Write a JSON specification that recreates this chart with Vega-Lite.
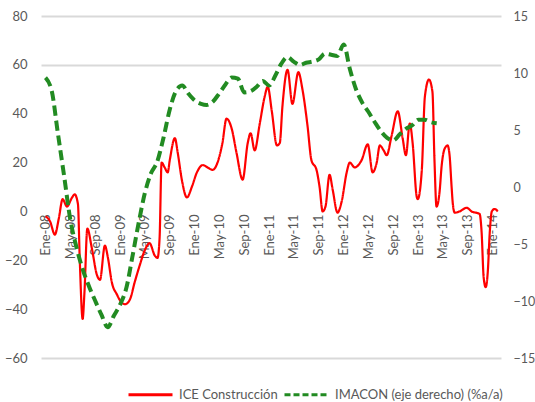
{
  "$schema": "https://vega.github.io/schema/vega-lite/v6.json",
  "width": 460,
  "height": 342,
  "autosize": "none",
  "padding": {"left": 41, "top": 16, "right": 34, "bottom": 44},
  "background": "white",
  "config": {
    "view": {"stroke": null},
    "font": "Lato",
    "axis": {"labelFont": "Lato", "labelFontSize": 13, "labelColor": "#595959", "domain": false, "ticks": false, "title": null}
  },
  "datasets": {
    "ice": [
      {"fecha": "2008-01-01", "valor": -2},
      {"fecha": "2008-01-23", "valor": -4},
      {"fecha": "2008-02-16", "valor": -9.5},
      {"fecha": "2008-03-06", "valor": -3},
      {"fecha": "2008-03-25", "valor": 5},
      {"fecha": "2008-04-15", "valor": 2},
      {"fecha": "2008-05-09", "valor": 5.5},
      {"fecha": "2008-05-23", "valor": 7},
      {"fecha": "2008-06-08", "valor": 3},
      {"fecha": "2008-06-17", "valor": -20},
      {"fecha": "2008-07-01", "valor": -44},
      {"fecha": "2008-07-10", "valor": -33},
      {"fecha": "2008-07-24", "valor": -7},
      {"fecha": "2008-08-15", "valor": -15},
      {"fecha": "2008-09-09", "valor": -26},
      {"fecha": "2008-09-24", "valor": -28},
      {"fecha": "2008-10-18", "valor": -14},
      {"fecha": "2008-11-02", "valor": -19},
      {"fecha": "2008-11-21", "valor": -29},
      {"fecha": "2008-12-16", "valor": -34},
      {"fecha": "2009-01-05", "valor": -37},
      {"fecha": "2009-01-25", "valor": -38},
      {"fecha": "2009-02-18", "valor": -36},
      {"fecha": "2009-03-13", "valor": -29},
      {"fecha": "2009-04-07", "valor": -22},
      {"fecha": "2009-05-01", "valor": -16},
      {"fecha": "2009-05-25", "valor": -13},
      {"fecha": "2009-06-19", "valor": -18},
      {"fecha": "2009-07-03", "valor": -19},
      {"fecha": "2009-07-13", "valor": -11},
      {"fecha": "2009-07-23", "valor": 20},
      {"fecha": "2009-08-07", "valor": 18},
      {"fecha": "2009-08-22", "valor": 16},
      {"fecha": "2009-09-01", "valor": 21},
      {"fecha": "2009-09-26", "valor": 30},
      {"fecha": "2009-10-10", "valor": 24},
      {"fecha": "2009-10-30", "valor": 13},
      {"fecha": "2009-11-24", "valor": 5.7},
      {"fecha": "2009-12-18", "valor": 10},
      {"fecha": "2010-01-12", "valor": 16},
      {"fecha": "2010-02-10", "valor": 19},
      {"fecha": "2010-03-05", "valor": 18},
      {"fecha": "2010-03-30", "valor": 17},
      {"fecha": "2010-04-23", "valor": 20},
      {"fecha": "2010-05-17", "valor": 28},
      {"fecha": "2010-06-06", "valor": 38},
      {"fecha": "2010-07-01", "valor": 34},
      {"fecha": "2010-07-25", "valor": 24},
      {"fecha": "2010-08-24", "valor": 13},
      {"fecha": "2010-09-18", "valor": 28},
      {"fecha": "2010-10-02", "valor": 32},
      {"fecha": "2010-10-22", "valor": 25},
      {"fecha": "2010-11-16", "valor": 36},
      {"fecha": "2010-12-10", "valor": 47},
      {"fecha": "2010-12-25", "valor": 51},
      {"fecha": "2011-01-14", "valor": 41},
      {"fecha": "2011-02-08", "valor": 27},
      {"fecha": "2011-02-22", "valor": 28},
      {"fecha": "2011-03-07", "valor": 43},
      {"fecha": "2011-04-01", "valor": 58},
      {"fecha": "2011-04-25", "valor": 44},
      {"fecha": "2011-05-24", "valor": 57},
      {"fecha": "2011-06-13", "valor": 50},
      {"fecha": "2011-07-08", "valor": 35},
      {"fecha": "2011-07-27", "valor": 21},
      {"fecha": "2011-08-21", "valor": 17},
      {"fecha": "2011-09-05", "valor": 10},
      {"fecha": "2011-09-20", "valor": 0},
      {"fecha": "2011-10-04", "valor": 2},
      {"fecha": "2011-10-24", "valor": 15},
      {"fecha": "2011-11-08", "valor": 9},
      {"fecha": "2011-12-02", "valor": -0.5},
      {"fecha": "2011-12-22", "valor": 4},
      {"fecha": "2012-01-16", "valor": 16},
      {"fecha": "2012-01-31", "valor": 20},
      {"fecha": "2012-02-24", "valor": 18},
      {"fecha": "2012-03-29", "valor": 21},
      {"fecha": "2012-04-28", "valor": 27.5},
      {"fecha": "2012-05-22", "valor": 16},
      {"fecha": "2012-06-11", "valor": 20},
      {"fecha": "2012-06-26", "valor": 27},
      {"fecha": "2012-07-15", "valor": 25},
      {"fecha": "2012-07-30", "valor": 23},
      {"fecha": "2012-08-23", "valor": 31},
      {"fecha": "2012-09-22", "valor": 41},
      {"fecha": "2012-10-16", "valor": 30},
      {"fecha": "2012-11-01", "valor": 23},
      {"fecha": "2012-11-20", "valor": 36},
      {"fecha": "2012-12-04", "valor": 28},
      {"fecha": "2012-12-24", "valor": 6},
      {"fecha": "2012-12-29", "valor": 5},
      {"fecha": "2013-01-18", "valor": 17},
      {"fecha": "2013-02-02", "valor": 47},
      {"fecha": "2013-02-22", "valor": 54},
      {"fecha": "2013-03-11", "valor": 49},
      {"fecha": "2013-03-21", "valor": 21},
      {"fecha": "2013-03-31", "valor": 2},
      {"fecha": "2013-04-15", "valor": 8},
      {"fecha": "2013-04-25", "valor": 18.5},
      {"fecha": "2013-05-09", "valor": 25.5},
      {"fecha": "2013-05-24", "valor": 27},
      {"fecha": "2013-06-03", "valor": 23},
      {"fecha": "2013-06-13", "valor": 10},
      {"fecha": "2013-06-18", "valor": 4},
      {"fecha": "2013-06-28", "valor": -0.5},
      {"fecha": "2013-07-22", "valor": 0},
      {"fecha": "2013-08-26", "valor": 1.5},
      {"fecha": "2013-09-19", "valor": 0},
      {"fecha": "2013-10-28", "valor": -1},
      {"fecha": "2013-11-07", "valor": -8.5},
      {"fecha": "2013-11-17", "valor": -27},
      {"fecha": "2013-11-27", "valor": -31},
      {"fecha": "2013-12-07", "valor": -25},
      {"fecha": "2013-12-17", "valor": -8.5},
      {"fecha": "2013-12-27", "valor": 0},
      {"fecha": "2014-01-10", "valor": 1},
      {"fecha": "2014-01-25", "valor": 0}
    ],
    "imacon": [
      {"fecha": "2008-01-01", "valor": 9.6},
      {"fecha": "2008-02-01", "valor": 8.4},
      {"fecha": "2008-03-01", "valor": 4.8},
      {"fecha": "2008-04-01", "valor": 1.0},
      {"fecha": "2008-05-01", "valor": -2.8},
      {"fecha": "2008-06-01", "valor": -5.3},
      {"fecha": "2008-07-01", "valor": -7.2},
      {"fecha": "2008-08-01", "valor": -8.7},
      {"fecha": "2008-09-01", "valor": -10.0},
      {"fecha": "2008-10-01", "valor": -11.2},
      {"fecha": "2008-11-01", "valor": -12.3},
      {"fecha": "2008-12-01", "valor": -11.3},
      {"fecha": "2009-01-01", "valor": -10.3},
      {"fecha": "2009-02-01", "valor": -8.8},
      {"fecha": "2009-03-01", "valor": -6.2},
      {"fecha": "2009-04-01", "valor": -3.2},
      {"fecha": "2009-05-01", "valor": -0.6},
      {"fecha": "2009-06-01", "valor": 1.2},
      {"fecha": "2009-07-01", "valor": 2.2},
      {"fecha": "2009-08-01", "valor": 4.3},
      {"fecha": "2009-09-01", "valor": 6.8},
      {"fecha": "2009-10-01", "valor": 8.4},
      {"fecha": "2009-11-01", "valor": 8.9},
      {"fecha": "2009-12-01", "valor": 8.2},
      {"fecha": "2010-01-01", "valor": 7.6},
      {"fecha": "2010-02-01", "valor": 7.3},
      {"fecha": "2010-03-01", "valor": 7.2},
      {"fecha": "2010-04-01", "valor": 7.5},
      {"fecha": "2010-05-01", "valor": 8.2},
      {"fecha": "2010-06-01", "valor": 9.0},
      {"fecha": "2010-07-01", "valor": 9.6},
      {"fecha": "2010-08-01", "valor": 9.5},
      {"fecha": "2010-09-01", "valor": 8.3},
      {"fecha": "2010-10-01", "valor": 8.4},
      {"fecha": "2010-11-01", "valor": 8.8},
      {"fecha": "2010-12-01", "valor": 9.3},
      {"fecha": "2011-01-01", "valor": 8.9},
      {"fecha": "2011-02-01", "valor": 9.8},
      {"fecha": "2011-03-01", "valor": 10.8},
      {"fecha": "2011-04-01", "valor": 11.4},
      {"fecha": "2011-05-01", "valor": 11.0},
      {"fecha": "2011-06-01", "valor": 10.7},
      {"fecha": "2011-07-01", "valor": 10.9},
      {"fecha": "2011-08-01", "valor": 11.0},
      {"fecha": "2011-09-01", "valor": 11.2},
      {"fecha": "2011-10-01", "valor": 11.7},
      {"fecha": "2011-11-01", "valor": 11.6},
      {"fecha": "2011-12-01", "valor": 11.5},
      {"fecha": "2012-01-01", "valor": 12.5},
      {"fecha": "2012-02-01", "valor": 10.3},
      {"fecha": "2012-03-01", "valor": 8.6},
      {"fecha": "2012-04-01", "valor": 7.4},
      {"fecha": "2012-05-01", "valor": 6.6},
      {"fecha": "2012-06-01", "valor": 5.7},
      {"fecha": "2012-07-01", "valor": 4.9},
      {"fecha": "2012-08-01", "valor": 4.3},
      {"fecha": "2012-09-01", "valor": 4.1},
      {"fecha": "2012-10-01", "valor": 4.6},
      {"fecha": "2012-11-01", "valor": 5.1},
      {"fecha": "2012-12-01", "valor": 5.4},
      {"fecha": "2013-01-01", "valor": 5.9},
      {"fecha": "2013-02-01", "valor": 5.9},
      {"fecha": "2013-03-01", "valor": 5.7},
      {"fecha": "2013-04-01", "valor": 5.6}
    ]
  },
  "encoding": {
    "x": {
      "field": "fecha", "type": "temporal",
      "scale": {"type": "utc", "domain": [{"year": 2007, "month": 12, "date": 10, "utc": true}, {"year": 2014, "month": 2, "date": 10, "utc": true}]},
      "axis": {
        "values": [
          {"year": 2008, "month": 1, "date": 1, "utc": true}, {"year": 2008, "month": 5, "date": 1, "utc": true}, {"year": 2008, "month": 9, "date": 1, "utc": true},
          {"year": 2009, "month": 1, "date": 1, "utc": true}, {"year": 2009, "month": 5, "date": 1, "utc": true}, {"year": 2009, "month": 9, "date": 1, "utc": true},
          {"year": 2010, "month": 1, "date": 1, "utc": true}, {"year": 2010, "month": 5, "date": 1, "utc": true}, {"year": 2010, "month": 9, "date": 1, "utc": true},
          {"year": 2011, "month": 1, "date": 1, "utc": true}, {"year": 2011, "month": 5, "date": 1, "utc": true}, {"year": 2011, "month": 9, "date": 1, "utc": true},
          {"year": 2012, "month": 1, "date": 1, "utc": true}, {"year": 2012, "month": 5, "date": 1, "utc": true}, {"year": 2012, "month": 9, "date": 1, "utc": true},
          {"year": 2013, "month": 1, "date": 1, "utc": true}, {"year": 2013, "month": 5, "date": 1, "utc": true}, {"year": 2013, "month": 9, "date": 1, "utc": true},
          {"year": 2014, "month": 1, "date": 1, "utc": true}
        ],
        "labelExpr": "(utcmonth(datum.value)==0?'Ene':utcmonth(datum.value)==4?'May':'Sep')+'-'+utcFormat(datum.value,'%y')",
        "labelAngle": -90,
        "offset": -147,
        "labelPadding": 3,
        "labelFlush": false,
        "labelOverlap": false,
        "labelBound": false,
        "labelSeparation": 0,
        "grid": false
      }
    }
  },
  "layer": [
    {
      "data": {"name": "ice"},
      "mark": {"type": "line", "strokeWidth": 2.2, "interpolate": "monotone"},
      "encoding": {
        "y": {
          "field": "valor", "type": "quantitative",
          "scale": {"domain": [-60, 80], "nice": false, "zero": false},
          "axis": {
            "orient": "left",
            "values": [-60, -40, -20, 0, 20, 40, 60, 80],
            "labelPadding": 14,
            "grid": true,
            "gridColor": "#d9d9d9",
            "gridWidth": 2,
            "gridOpacity": {"condition": {"test": "datum.value == 80 || datum.value == 60 || datum.value == -60", "value": 1}, "value": 0}
          }
        },
        "color": {
          "datum": "ICE Construcción",
          "scale": {"domain": ["ICE Construcción", "IMACON (eje derecho)  (%a/a)"], "range": ["#FF0000", "#228B22"]},
          "legend": {
            "orient": "none", "legendX": 86, "legendY": 355, "direction": "horizontal", "title": null,
            "symbolType": "stroke", "symbolSize": 1936, "symbolStrokeWidth": 3,
            "labelFont": "Lato", "labelFontSize": 13, "labelColor": "#595959", "labelLimit": 400,
            "labelOffset": 5, "columnPadding": 0, "padding": 0
          }
        },
        "strokeDash": {
          "datum": "ICE Construcción",
          "scale": {"domain": ["ICE Construcción", "IMACON (eje derecho)  (%a/a)"], "range": [[1, 0], [6, 3]]},
          "legend": null
        }
      }
    },
    {
      "data": {"name": "imacon"},
      "mark": {"type": "line", "strokeWidth": 4, "strokeDash": [10, 5], "interpolate": "monotone"},
      "encoding": {
        "y": {
          "field": "valor", "type": "quantitative",
          "scale": {"domain": [-15, 15], "nice": false, "zero": false},
          "axis": {"orient": "right", "values": [-15, -10, -5, 0, 5, 10, 15], "labelPadding": 12, "labelFontSize": 12.5, "grid": false}
        },
        "color": {"datum": "IMACON (eje derecho)  (%a/a)"}
      }
    }
  ],
  "resolve": {"scale": {"y": "independent"}}
}
